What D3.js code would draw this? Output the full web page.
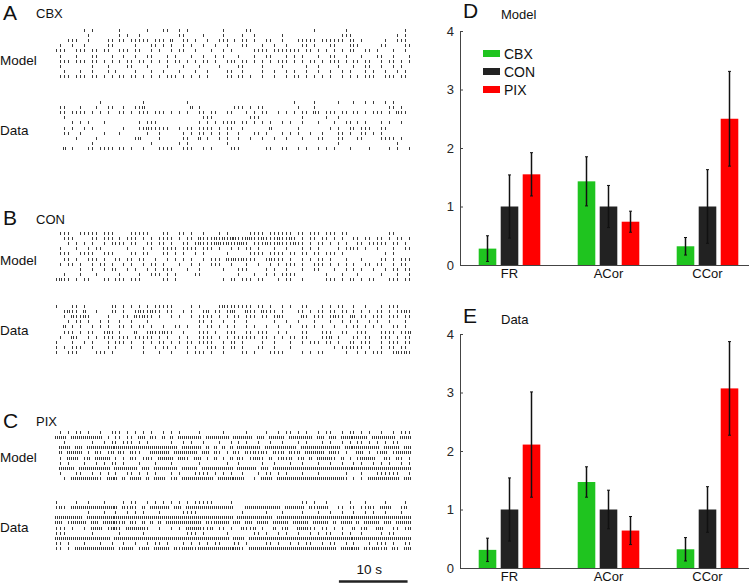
<!DOCTYPE html>
<html>
<head>
<meta charset="utf-8">
<script src="https://cdn.jsdelivr.net/npm/d3@7"></script>
<style>
body { margin: 0; background: #fff; }
text { font-family: "Liberation Sans", Arial, Helvetica, sans-serif; }
</style>
</head>
<body>
<svg id="fig"></svg>
<script>
// ---- bar chart values (normalised to CON) ----
var categories = ["FR", "ACor", "CCor"];
var conditions = ["CBX", "CON", "PIX"];
var condColors = ["#1fc41f", "#222222", "#ff0000"];
var yTicks = [0, 1, 2, 3, 4];

var modelCBX = [0.28, 1.43, 0.32], modelCBXErr = [0.22, 0.42, 0.15];
var modelCON = [1.00, 1.00, 1.00], modelCONErr = [0.54, 0.36, 0.63];
var modelPIX = [1.55, 0.74, 2.50], modelPIXErr = [0.37, 0.18, 0.81];

var dataCBX = [0.31, 1.47, 0.32], dataCBXErr = [0.20, 0.26, 0.20];
var dataCON = [1.00, 1.00, 1.00], dataCONErr = [0.54, 0.33, 0.39];
var dataPIX = [2.11, 0.64, 3.07], dataPIXErr = [0.90, 0.24, 0.80];

// ---- spike rasters: one string per neuron, one char per 52/90 s bin ----
// "." no spike, "|" one spike, "2" two spikes
var recordSec = 52;
var scaleBarSec = 10;

var cbxModel = [
  ".......|.| ......|... ...|...||. .|.|...... ..|.....|| .......... .....|.... ...|...... ........|.",
  "........|. ......|.|. .|........ .||....|.. ..|....|.. |......|.. .......... ..|||..... ......|.|.",
  "...|||..|. ...||.||.| ||||.|||.2 ..||.|..|. .|||.|.||. |..||..|.. .|||||.||| |||.||.|.. ...|..|||.",
  ".|..|..|.. ...||..... |...||.|.| ..|.|..|.. |..|...||. ..|..|..|. ..||.|...| |...|||... ..||....||",
  "|||..|||.| |.||..|||. ||..|.|..| .||..|...| ..|.|..... ||||.||||| ||.||.|.|. |.|.||..|| .|...|..|.",
  ".|...|...| |...|..|.. |..||...|. |...|..|.. |.|...|... |..||...|. |.|...|..| |..|...|.. .||..|...|",
  ".|||.|||.| |.|.|.|.|| .||.|.|.|. ||.|.|.||. |..|||.||. |.|.|.|||. |.|.||.|.| ||.|.||.|| ..|.||.|.|",
  ".|.......| ...|....|| ...|....|. ..|...|... .|....||.. ..|....|.. ...|..|... .|...|..|| ..|..|.|..",
  "..|...|..| ...|.|.... |...|..|.. .|...|..|. ...||..|.. ..|..|..|. |..|..|..| ..|.|...|. |..|..|.|.",
  ".|||.|||.| |.|.|.||.| |.|.|.|.|| |.|.|.|.|. ...||.||.| ..|..|..|. ||.|.|.|.| ..|.|.|.|| |..|||.||."
];
var cbxData = [
  ".......... .|........ ..|....... ...|...... .......... .......... |....|.... .|...|..|. |..|.|....",
  ".||...|... |..||..|.. ||2....... ....2.|... .....|||.| .||....... .|...|.... .......... ....||.|..",
  ".||.||||.| .|.|..||.| .|||.|||.| .|.|..||.| |..||...|. |.||..|.|. |.||.2|.|| |.||.||.|. |||.|.2||.",
  "..|....... .......... .......... .......||| .........| ||........ ..|.....|. .|........ ..........",
  "....|.|.|. ..|....... .|.|||.... ......|.|. |.||||.||. |.|.|..|.| ..|...|... |..||.|.|. ..|.|..|..",
  "..|.|..|.| .......|.. .||2|||||. .|.||.|||| .|.||..|.. ....2..... .|.......| .|..||.||| ..||......",
  "..||..|... ..|...|... ...|..|... ..|.|.||.| .|.|..|... ||.|...|.| .|..|..|.. .||.|..||. |.|.......",
  ".....|.... |......... |2....|... ..||..2.|. .|.|..|..| ..|..|..|. ..|...||.. .||...||.. ..||||.|..",
  ".........| .......... ....|..... .|.|...... ...|...... .......... .......... .|........ ......|...",
  "..2.|...|| .||||.||.| ..|...|||| ..|||..|.| ....|||... ...||..||. .|.|..|.|. |...|....| ....|.|..|"
];
var conModel = [
  ".|||..|||| |.|||....| ||||...||. .||.|..|.. .|.|.....| |||.|||||| .||.|||.|| |.||...... ....||....",
  "..|||....| |.|||.|.|| |.|.|.|||| .|.||.2||| 2|2|22||22 ||2|||2||2 |.|.||.||. |.|..||.|| .||.|.||.|",
  "...|.|.|.| ..|.||||.| |..||.||.| ..||.|2||| 22|2||22|. |||2||2||| 2||.|.||.| .|.|..||.| ||||.||.|.",
  ".|...|..|. ||......|. ..|.|..||| |.||||.||| .|..|.|.|| .|...|..|. ..|.|.|... .|.||||.|. .|...|..||",
  ".|||..|||| ..|||....| |.||...||. |.|..|.|.. ...|.....| |||.||||.| |.||.||.|| |.|....... ...|.|....",
  "..||.|..|| |.|..||.|| .||..|..|. |.|.|..|.| ||.2|2|2|| |..|2|||.| ..|.|.||.| ...|...|.. ..||.|.|||",
  ".|.||.|..| .||.|..|.| ..|.||.|.. .|..|.|..| ||..|...|. .|..|.|.|| |.|..|||.| .|.|.|..|| .||..|.||.",
  "......|..| ..|.||..|. |..|.|.||| ...|..|... ..|...|||. ...|.|..|. ..|..||... |..|.|.|.. |..|.||.||",
  "..|...|... |.....|... .|..|||.|. |....||... ......|... |..|.|.||| |.......|. ..|...|... ..|...|..|",
  "|2||.|.||. ..||.|||.| ||.....||. |......... ..|.||.||| .||...|.|| ..|.....|| |.|.||.|.| |...|||.||"
];
var conData = [
  "|...||.|.. ....||.|.| .|.|.||||| ....|.|... .|2||||||| .||.|..|.| ..||...|.| .||..|..|. ..|.|||...",
  "..|2||.2.. |...||.|.. |2||2||.|| ..|.|..|2. ||.|2|..2| |.2|||.|.. .||.|.||.| |.||.|.|.| .||.|.||2|",
  "..|.2||2|. ...|...||. 2|2||.|..| .|..|.|||| .|.|.||.|| |.||.|2|.. ..2|.|||.| 2||.|2.||. |||.|||.||",
  "...|.||.|. .|.|..|..| ...|...... ......||.| ..|..|..|. .....|..|. .|...|...| ..|.|.|..| .|..|...|.",
  "..2.|.|..| .|.|..||.| .||.|..|.. ||.|..|.|| .|.|.|..|. |..|..|..| ..||.|.|.. |..|.||.|. |.|..||.|.",
  "..|||.|.|| ..|2|.|... 2..|2||2|| ..|...|||. |..|||..|| .|||..|.|. ..||...||| ..||..|||. ..||||.||2",
  ".|..2|..|. |.|||.|||. |||||.|.|. .|.|..|||| .|.|.||||| |.||.|.|.| |.||...||2 .|...||.|| ..|||.|.||",
  "|...|..|.| ...|.|||.| ..|.|.||.| .|.||.|||| ..|.||.|.. ..|..|...| ..|.|||.|| .|..||.||| ..|.|||.||",
  "|.|.|||..| ...|.|...| ..|..|.||. |..|.|..|| |.|.||.|.. .||..|...| .......... |.||||||.| ..|.||.||.",
  "|..|||.... |||.|..... ..|...|..| ...|.|||.| ..|....||. |...||||.. ..|.|.||.. ...|..|.|. |||..|2|2|"
];
var pixModel = [
  ".|.|.||.|. .|..|||.|. |.|.|..|.| .|....|... ..|.....|. ...|..|.|| .|.|..|.|| ..|.||.|.| ..|..|.|||",
  "222.222222 22.|.||.|| .22.2|.2.2 .222222.22 2222.22222 .22.2222.2 22222.22.2 2.2222222. 222222.222",
  "..|......| ..|.||.||| .|.|.....| ..|.|..|.. .|..|.|.|. .|..|..|.. .|.|...|.| ..|.|.||.| .|.|.||...",
  ".222.22.22 2222222222 2222222222 2.22222.2. 2.2.2.2222 22.2222222 2.22222222 22.2222222 22.2222.22",
  ".2.2222.|. 2|.|2.2|.2 ||..22222. 222222.22. 2|.|.2|.2| 2|2|.2|2.2 |2.22222.2 2|.|..22.| .|22.|2222",
  ".|.222.|2. 2222.|.|.2 |.|2|.2222 .22|.22.|. 2.|.2.2|.| 22|.2.|2|2 .|2.2.2222 |.2.|.|222 2..2|.2|.|",
  ".|.|...|.. |.|.||.|.. .|...|...| ......|... ...|..|... ..|..|...| ..|...|..| ..|..|.|.. |.|.|..|.|",
  ".2222.2222 2222.22222 2.22.22222 2.2222.222 22222.2222 2.22.22222 2222222222 2222222222 2222222222",
  ".|...||..| .|.|.|..|| .|.|.|...| .|...||||. |.|.|..|.. .|.||.|.|. ..|...|... ...|...|.. .||||||..|",
  "..|.222222 2|.222.2.2 22.2.222.| 2.22222222 .2222222.. |.222.2222 2222222222 222|.|.|.2 2222222.22"
];
var pixData = [
  "|....|..|. ..|....|.| |..|.|.|.| .|.|.||||| ....|..... .......... ..||.|..|. ....|...|. ...|....|.",
  "|2|.222222 222222.2|2 |.2.22222. 22.2222222 22222...22 2222222.22 222.2|222. .||.||.||2 |.222..|2.",
  "........|. ..|..|..|. |.|...|... ..||||.... .......|.. ...|...|.. ..|...|..| ..|..|..|. |..|...|..",
  "2222222.22 2222222222 2222222222 2222222222 22222.2222 22222.2222 2222222222 2222222222 2222222222",
  "22.|2222.2 2.2222|2.2 |.2.2.2.22 2222222.2| 2222.22.22 .222.2222. 2222.2222. 2.222.2.22 22.22.2222",
  "|||.|..|.2 22.|22|.22 222|..|..| .|.2222||2 .||.|..2|| 2.|..2.|2. .222||.||. |.|..2.|2. .22..||.|2",
  "|||......| ......|... ..|....... ...|||.|.. ...|...... ||.|..|.|. .|..|.|.|| ..|.|..|.. ..|.||....",
  "2222222222 2222.22222 2222222222 2222222222 2222.222.2 2222222222 2222222222 2222222222 2222222222",
  "||.|...|.. .|..|..|.. |..|.||.|. ..|.|.|.|. ||...||.|. ...||.|..| .|.||..|.| |..|.|...| .|||.|..||",
  "||.|.22222 22222.|222 .|22.2222. 2|222|2222 2222222|.2 2222222222 2222222222 2.22222.2| 22|2.2|.22"
];

// ---- layout ----
var W = 749, H = 584;
var svg = d3.select("#fig").attr("width", W).attr("height", H);

var tx = d3.scaleLinear().domain([0, recordSec]).range([54, 411]);
var rowGap = 5.2, tickLen = 3;

function spikeTimes(row) {
  var s = row.replace(/ /g, "");
  var cellSec = recordSec / 90;
  var out = [];
  for (var i = 0; i < s.length; i++) {
    var c = s[i];
    var n = c === "|" ? 1 : (c === "." ? 0 : +c);
    for (var k = 0; k < n; k++) out.push((i + (k + 0.5) / n) * cellSec);
  }
  return out;
}

function drawRaster(rows, y0) {
  var g = svg.append("g").attr("shape-rendering", "crispEdges");
  rows.forEach(function(row, r) {
    var yt = Math.round(y0 + r * rowGap - tickLen / 2);
    g.selectAll(null)
      .data(spikeTimes(row))
      .enter().append("line")
      .attr("x1", function(d) { return Math.round(tx(d)) + 0.5; })
      .attr("x2", function(d) { return Math.round(tx(d)) + 0.5; })
      .attr("y1", yt)
      .attr("y2", yt + tickLen)
      .attr("stroke", "#3a3a3a")
      .attr("stroke-width", 1);
  });
}

var rasterPanels = [
  {letter: "A", name: "CBX", top: 20, nameY: 17.5, model: cbxModel, modelY: 30, modelLab: 65, data: cbxData, dataY: 102, dataLab: 135},
  {letter: "B", name: "CON", top: 225, nameY: 223.5, model: conModel, modelY: 233, modelLab: 265, data: conData, dataY: 306, dataLab: 335},
  {letter: "C", name: "PIX", top: 428, nameY: 426, model: pixModel, modelY: 432, modelLab: 462, data: pixData, dataY: 502, dataLab: 532}
];

rasterPanels.forEach(function(p) {
  svg.append("text").attr("x", 3).attr("y", p.top)
    .style("font-size", "21px").attr("fill", "#111").text(p.letter);
  svg.append("text").attr("x", 36).attr("y", p.nameY)
    .style("font-size", "13px").attr("fill", "#111").text(p.name);
  svg.append("text").attr("x", 0).attr("y", p.modelLab)
    .style("font-size", "13.5px").attr("fill", "#111").text("Model");
  svg.append("text").attr("x", 0).attr("y", p.dataLab)
    .style("font-size", "13.5px").attr("fill", "#111").text("Data");
  drawRaster(p.model, p.modelY);
  drawRaster(p.data, p.dataY);
});

// scale bar
var sbEnd = 51.5;
svg.append("line")
  .attr("x1", tx(sbEnd - scaleBarSec)).attr("x2", tx(sbEnd))
  .attr("y1", 581.5).attr("y2", 581.5)
  .attr("stroke", "#222").attr("stroke-width", 2.5);
svg.append("text")
  .attr("x", (tx(sbEnd - scaleBarSec) + tx(sbEnd)) / 2 - 4).attr("y", 574)
  .attr("text-anchor", "middle")
  .style("font-size", "13.5px").attr("fill", "#111").text(scaleBarSec + " s");

// ---- bar charts ----
function drawBars(opts) {
  var y = d3.scaleLinear().domain([0, 4]).range([opts.y0, opts.y0 - 234]);
  var x = d3.scaleBand().domain(categories).range([460, 757]);
  var xi = d3.scaleBand().domain(conditions).range([0, 66])
    .paddingInner(0.2).paddingOuter(0.1);
  var g = svg.append("g");

  conditions.forEach(function(cond, ci) {
    var vals = opts.values[ci], errs = opts.errors[ci];
    var left = function(d, i) { return x(categories[i]) + x.bandwidth() / 2 - 33 + xi(cond); };
    g.selectAll(null).data(vals).enter().append("rect")
      .attr("x", left)
      .attr("y", function(d) { return y(d); })
      .attr("width", xi.bandwidth())
      .attr("height", function(d) { return y(0) - y(d); })
      .attr("fill", condColors[ci]);
    var mid = function(d, i) { return left(d, i) + xi.bandwidth() / 2; };
    g.selectAll(null).data(vals).enter().append("line")
      .attr("x1", mid).attr("x2", mid)
      .attr("y1", function(d, i) { return y(d - errs[i]); })
      .attr("y2", function(d, i) { return y(d + errs[i]); })
      .attr("stroke", "#111").attr("stroke-width", 1.5);
    [-1, 1].forEach(function(sgn) {
      g.selectAll(null).data(vals).enter().append("line")
        .attr("x1", function(d, i) { return mid(d, i) - 1.5; })
        .attr("x2", function(d, i) { return mid(d, i) + 1.5; })
        .attr("y1", function(d, i) { return y(d + sgn * errs[i]); })
        .attr("y2", function(d, i) { return y(d + sgn * errs[i]); })
        .attr("stroke", "#111").attr("stroke-width", 1);
    });
  });

  var ya = svg.append("g").attr("transform", "translate(460,0)")
    .call(d3.axisLeft(y).tickValues(yTicks).tickFormat(d3.format("d"))
      .tickSizeInner(-3).tickSizeOuter(0).tickPadding(6));
  ya.select(".domain").attr("stroke", "#444");
  ya.selectAll(".tick line").attr("stroke", "#444");
  ya.selectAll("text").style("font-size", "13px").attr("fill", "#262626")
    .style("font-family", "'Liberation Sans', Arial, sans-serif");

  var xa = svg.append("g").attr("transform", "translate(0," + opts.y0 + ")")
    .call(d3.axisBottom(x).tickSize(0).tickPadding(4));
  xa.select(".domain").attr("stroke", "#444");
  xa.selectAll("text").style("font-size", "13px").attr("fill", "#111")
    .style("font-family", "'Liberation Sans', Arial, sans-serif");

  svg.append("text").attr("x", 463).attr("y", opts.letterY)
    .style("font-size", "21px").attr("fill", "#111").text(opts.letter);
  svg.append("text").attr("x", 501).attr("y", opts.letterY + 1)
    .style("font-size", "13px").attr("fill", "#111").text(opts.title);
}

drawBars({
  y0: 265, letter: "D", title: "Model", letterY: 18,
  values: [modelCBX, modelCON, modelPIX],
  errors: [modelCBXErr, modelCONErr, modelPIXErr]
});
drawBars({
  y0: 568, letter: "E", title: "Data", letterY: 323,
  values: [dataCBX, dataCON, dataPIX],
  errors: [dataCBXErr, dataCONErr, dataPIXErr]
});

// legend (panel D)
var legY = [50, 68, 86];
conditions.forEach(function(cond, i) {
  svg.append("rect").attr("x", 483).attr("y", legY[i])
    .attr("width", 17).attr("height", 7).attr("fill", condColors[i]);
  svg.append("text").attr("x", 504).attr("y", legY[i] + 8.5)
    .style("font-size", "14px").attr("fill", "#111").text(cond);
});
</script>
</body>
</html>
